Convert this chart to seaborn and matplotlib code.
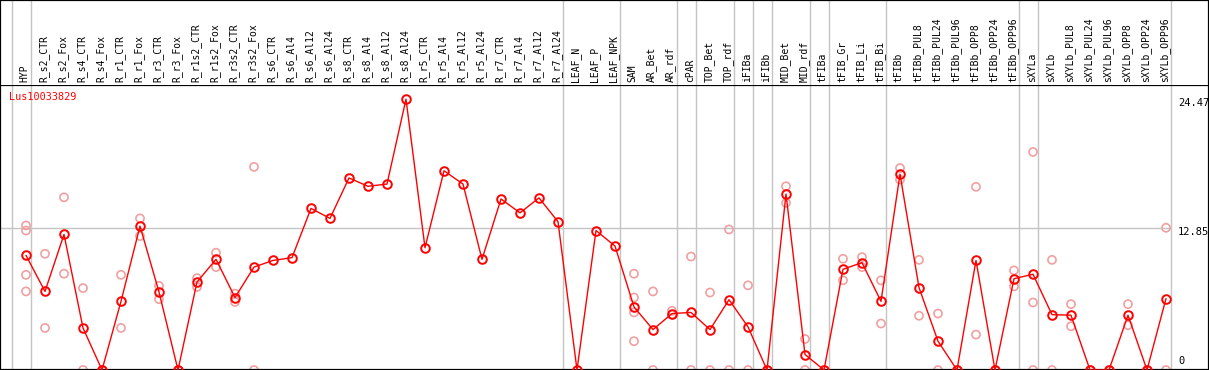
import numpy as np
import pandas as pd
import matplotlib
matplotlib.use("Agg")
import matplotlib.pyplot as plt
import seaborn as sns

gene = "Lus10033829"

categories = [
    "HYP", "R_s2_CTR", "R_s2_Fox", "R_s4_CTR", "R_s4_Fox", "R_r1_CTR", "R_r1_Fox",
    "R_r3_CTR", "R_r3_Fox", "R_r1s2_CTR", "R_r1s2_Fox", "R_r3s2_CTR", "R_r3s2_Fox",
    "R_s6_CTR", "R_s6_Al4", "R_s6_Al12", "R_s6_Al24", "R_s8_CTR", "R_s8_Al4",
    "R_s8_Al12", "R_s8_Al24", "R_r5_CTR", "R_r5_Al4", "R_r5_Al12", "R_r5_Al24",
    "R_r7_CTR", "R_r7_Al4", "R_r7_Al12", "R_r7_Al24", "LEAF_N", "LEAF_P", "LEAF_NPK",
    "SAM", "AR_Bet", "AR_rdf", "cPAR", "TOP_Bet", "TOP_rdf", "iFIBa", "iFIBb",
    "MID_Bet", "MID_rdf", "tFIBa", "tFIB_Gr", "tFIB_Li", "tFIB_Bi", "tFIBb",
    "tFIBb_PUL8", "tFIBb_PUL24", "tFIBb_PUL96", "tFIBb_OPP8", "tFIBb_OPP24",
    "tFIBb_OPP96", "sXYLa", "sXYLb", "sXYLb_PUL8", "sXYLb_PUL24", "sXYLb_PUL96",
    "sXYLb_OPP8", "sXYLb_OPP24", "sXYLb_OPP96",
]

means = [
    10.36, 7.1, 12.25, 3.8, 0.0, 6.2, 13.0,
    7.05, 0.0, 7.95, 10.0, 6.55, 9.3,
    9.9, 10.15, 14.6, 13.7, 17.35, 16.6,
    16.8, 24.47, 11.05, 18.0, 16.8, 10.0,
    15.45, 14.2, 15.55, 13.4, 0.0, 12.6, 11.2,
    5.7, 3.65, 5.1, 5.2, 3.65, 6.35, 3.9, 0.0,
    15.9, 1.4, 0.0, 9.1, 9.7, 6.2, 17.7,
    7.45, 2.6, 0.0, 9.9, 0.0,
    8.25, 8.65, 5.0, 4.95, 0.0, 0.0,
    4.95, 0.0, 6.45,
]

replicates = [
    [13.06, 12.6, 8.6, 7.1], [10.5, 3.8], [15.6, 8.7], [7.4, 0.0], [0.0], [8.6, 3.8], [13.7, 12.1],
    [7.6, 6.4], [0.0], [8.3, 7.5], [10.6, 9.3], [6.9, 6.15], [18.35, 0.0],
    [], [], [], [], [], [],
    [], [], [], [], [], [],
    [], [], [], [], [], [], [],
    [8.7, 6.55, 5.2, 2.6], [7.1, 0.0], [5.35, 5.0], [10.25, 0.0], [7.0, 0.0], [12.7, 0.0], [7.65, 0.0], [0.0],
    [16.6, 15.1], [2.8, 0.0], [0.0], [10.05, 8.1], [10.2, 9.3], [8.1, 4.2], [18.25, 17.2],
    [9.95, 4.9], [5.1, 0.0], [0.0], [16.55, 3.2], [0.0],
    [9.0, 7.55], [19.7, 6.1, 0.0], [9.95, 0.0], [5.95, 3.95], [0.0], [0.0],
    [5.95, 4.05], [0.0], [12.85, 0.0],
]

# group boundaries (separator placed after these category indices)
group_ends = [-1, 0, 28, 31, 34, 35, 37, 38, 39, 41, 42, 45, 52, 53, 60]

right_labels = ["24.47", "12.85", "0"]
right_levels = [24.47, 12.85, 0.0]

# ---------------------------------------------------------------
W, H = 1209, 370
DPI = 100
HEADER_PX = 85

n = len(categories)
xpos = np.arange(n)
px_per_cat = 19.0
x0_px = 26.0
xlim = (-x0_px / px_per_cat, (W - x0_px) / px_per_cat)
sep_off = 4.7 / px_per_cat
ytop = 25.75

mean_df = pd.DataFrame({"x": xpos, "value": means, "cat": categories})
rep_rows = [(i, v) for i, reps in enumerate(replicates) for v in reps]
rep_df = pd.DataFrame(rep_rows, columns=["x", "value"])

sns.set_style("white")
plt.rcParams["font.family"] = ["DejaVu Sans Mono", "DejaVu Sans"]

fig = plt.figure(figsize=(W / DPI, H / DPI), dpi=DPI)
main_h = (H - HEADER_PX) / H
ax = fig.add_axes([0, 0, 1, main_h])
hax = fig.add_axes([0, main_h, 1, HEADER_PX / H], sharex=ax)

grey = "#c4c4c4"
for k in group_ends:
    ax.axvline(k + sep_off, color=grey, lw=1.0, zorder=0)
    hax.axvline(k + sep_off, color=grey, lw=1.0, zorder=0)
ax.hlines(12.85, xlim[0], group_ends[-1] + sep_off, color=grey, lw=1.0, zorder=0)

sns.scatterplot(data=rep_df, x="x", y="value", ax=ax, marker="o", s=34,
                facecolors="none", edgecolor="#f0a0a0", linewidth=1.2,
                zorder=2, legend=False, clip_on=True)
sns.lineplot(data=mean_df, x="x", y="value", ax=ax, color="#ff0000", lw=1.0,
             marker="o", markersize=6.2, markerfacecolor="none",
             markeredgecolor="#ff0000", markeredgewidth=1.4, zorder=3,
             legend=False)

ax.set_xlim(*xlim)
ax.set_ylim(0, ytop)
ax.set_xlabel("")
ax.set_ylabel("")
ax.set_xticks([])
ax.set_yticks([])
for s in ax.spines.values():
    s.set_color("black")
    s.set_linewidth(1.6)

ax.text(xlim[0] + 9 / px_per_cat, ytop - 7 * ytop / (H - HEADER_PX), gene,
        color="#ff0000", fontsize=7.3, ha="left", va="top")

label_x = (1178 - x0_px) / px_per_cat
for lab, lev in zip(right_labels, right_levels):
    if lev > 0:
        ax.text(label_x, lev + 0.1, lab, fontsize=7.5, color="black", ha="left", va="top")
    else:
        ax.text(label_x, lev + 0.35, lab, fontsize=7.5, color="black", ha="left", va="bottom")

hax.set_ylim(0, HEADER_PX)
for i, c in enumerate(categories):
    hax.text(i - 0.06, 3, c, rotation=90, ha="center", va="bottom", fontsize=7.0, color="black")
hax.set_xticks([])
hax.set_yticks([])
hax.set_xlabel("")
for name, s in hax.spines.items():
    s.set_color("black")
    s.set_linewidth(1.6)
hax.spines["bottom"].set_visible(False)

fig.savefig("out.png", dpi=DPI)
